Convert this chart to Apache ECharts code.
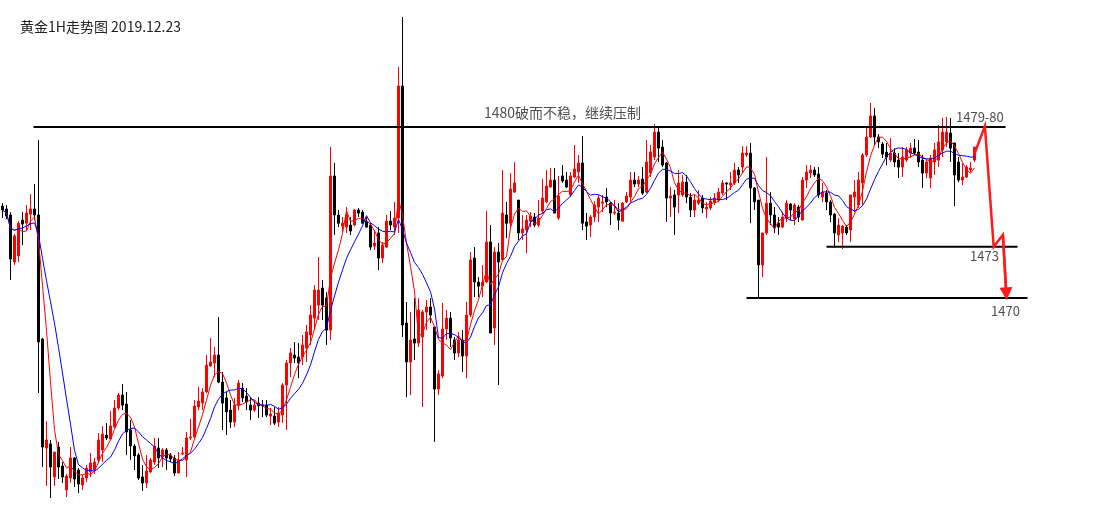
<!DOCTYPE html>
<html>
<head>
<meta charset="utf-8">
<script src="https://cdn.jsdelivr.net/npm/echarts@6/dist/echarts.min.js"></script>
<style>html,body{margin:0;padding:0;background:#fff;}#c{width:1114px;height:524px;}</style>
</head>
<body>
<div id="c"></div>
<script>
// ---- data (hourly gold candles) ----
const open = [
1475.38,1475.21,1474.86,1472.11,1472.46,1474.56,1474.38,1474.91,1475.21,1474.86,
1467.61,1461.23,1461.47,1459.54,1461.29,1460.18,1458.78,1459.48,1460.65,1459.95,
1459.07,1459.48,1459.83,1459.95,1460.53,1461.12,1461.99,1461.76,1462.46,1463.57,
1464.33,1463.80,1462.29,1461.35,1460.82,1459.54,1459.19,1459.83,1460.41,1461.23,
1460.71,1461.12,1460.82,1460.65,1459.77,1460.88,1460.53,1461.82,1461.88,1463.63,
1463.86,1464.51,1466.03,1466.20,1466.67,1465.09,1464.16,1463.45,1462.75,1463.74,
1464.74,1464.27,1463.74,1463.45,1463.86,1463.74,1463.74,1463.10,1463.10,1462.75,
1463.16,1464.92,1466.20,1466.67,1466.55,1466.55,1467.08,1467.84,1468.83,1469.59,
1470.59,1470.00,1468.13,1477.14,1474.86,1474.21,1474.15,1474.27,1474.27,1475.15,
1475.03,1474.50,1474.27,1473.04,1473.81,1472.34,1472.98,1474.50,1474.15,1474.68,
1482.40,1468.54,1466.26,1467.61,1467.37,1467.72,1469.19,1469.48,1468.31,1464.68,
1465.44,1468.19,1468.83,1467.55,1466.79,1467.55,1466.61,1469.01,1472.34,1470.94,
1470.70,1470.94,1473.28,1468.25,1472.69,1472.23,1474.86,1474.38,1476.20,1475.73,
1473.81,1473.98,1474.50,1474.74,1474.27,1475.09,1475.62,1476.49,1476.90,1474.68,
1477.14,1476.90,1476.03,1477.08,1477.37,1477.90,1474.45,1474.27,1474.74,1475.32,
1475.55,1475.91,1475.55,1474.97,1474.97,1474.50,1475.62,1475.91,1476.90,1476.67,
1476.96,1476.20,1477.31,1478.25,1479.71,1478.83,1477.90,1475.85,1476.03,1476.03,
1476.03,1476.78,1475.91,1475.15,1475.55,1475.85,1475.21,1475.27,1475.62,1475.73,
1476.14,1476.73,1476.61,1476.73,1477.49,1477.66,1478.37,1478.48,1476.44,1475.73,
1471.94,1473.81,1475.55,1474.86,1474.38,1474.15,1474.68,1475.50,1474.62,1475.32,
1474.56,1476.90,1477.31,1477.49,1477.26,1475.91,1476.14,1475.62,1474.91,1473.69,
1473.81,1474.15,1473.98,1475.91,1475.44,1476.73,1478.37,1479.42,1480.65,1479.42,
1479.01,1478.54,1478.07,1478.48,1478.07,1477.66,1478.07,1478.48,1478.77,1478.54,
1478.07,1477.31,1477.02,1477.96,1478.07,1478.66,1479.13,1479.65,1479.07,1477.96,
1476.90,1477.08,1477.49,1478.07];
const close = [
1475.15,1474.80,1472.29,1473.63,1474.38,1474.33,1474.97,1475.21,1474.86,1467.43,
1461.29,1461.70,1460.12,1461.00,1460.12,1459.54,1459.60,1460.65,1459.42,1459.13,
1459.48,1460.06,1460.36,1460.41,1461.70,1462.05,1461.82,1462.52,1463.57,1464.33,
1463.74,1462.17,1461.35,1460.77,1459.48,1459.19,1459.89,1460.53,1461.35,1460.65,
1461.12,1460.65,1460.59,1459.77,1460.53,1460.94,1461.82,1461.88,1463.69,1463.98,
1464.51,1466.08,1466.26,1466.67,1465.09,1463.86,1463.34,1462.75,1463.74,1465.03,
1464.16,1463.92,1463.45,1463.74,1463.69,1463.69,1463.16,1463.22,1462.69,1463.28,
1464.92,1466.20,1466.79,1466.49,1466.20,1467.26,1468.02,1469.01,1470.47,1470.47,
1469.59,1468.13,1477.14,1474.86,1474.38,1474.38,1474.86,1473.92,1475.15,1474.97,
1474.38,1474.15,1472.98,1473.22,1472.34,1473.10,1474.50,1474.27,1474.68,1482.40,
1468.43,1466.26,1467.55,1467.37,1469.30,1469.19,1469.48,1469.01,1464.68,1465.56,
1468.19,1468.83,1467.67,1466.79,1467.55,1466.61,1469.01,1472.23,1470.94,1470.70,
1470.94,1473.28,1467.96,1472.69,1472.11,1474.97,1474.38,1476.38,1476.73,1473.81,
1474.04,1474.56,1474.80,1474.27,1474.68,1475.85,1476.55,1476.90,1474.97,1475.97,
1476.84,1476.49,1477.14,1477.55,1477.90,1474.38,1474.21,1474.74,1475.44,1475.85,
1475.62,1475.62,1474.97,1475.03,1474.56,1475.55,1475.97,1476.90,1476.67,1476.90,
1476.14,1477.96,1478.54,1479.71,1478.77,1477.78,1475.85,1475.97,1475.32,1476.73,
1476.78,1475.91,1475.15,1475.73,1475.73,1475.27,1475.32,1475.67,1475.85,1476.20,
1476.73,1476.67,1476.73,1477.49,1477.20,1478.48,1478.48,1476.44,1475.62,1471.94,
1473.81,1475.55,1474.86,1474.10,1474.15,1474.74,1475.55,1475.15,1475.44,1474.74,
1476.90,1477.37,1477.49,1477.20,1476.03,1476.20,1475.62,1474.86,1473.81,1474.27,
1474.21,1473.81,1476.03,1476.20,1476.90,1478.37,1479.42,1480.65,1479.42,1479.13,
1478.42,1478.25,1478.48,1477.96,1477.66,1478.25,1478.66,1478.77,1478.48,1477.96,
1477.31,1477.96,1478.19,1478.66,1479.13,1479.71,1479.71,1478.77,1477.20,1476.90,
1477.08,1477.66,1477.61,1478.83];
const low = [
1474.68,1474.62,1471.06,1471.94,1472.11,1473.10,1473.98,1473.98,1474.56,1464.45,
1460.12,1459.01,1458.31,1459.01,1459.42,1459.19,1458.37,1459.19,1458.95,1458.60,
1458.78,1459.25,1459.54,1459.72,1460.36,1460.41,1461.70,1461.70,1462.40,1463.45,
1463.45,1460.82,1460.53,1459.95,1459.36,1458.72,1458.89,1459.77,1460.24,1460.06,
1460.12,1459.95,1460.41,1459.60,1459.77,1460.82,1459.54,1461.70,1461.76,1463.45,
1463.45,1464.45,1465.97,1465.38,1465.03,1462.29,1461.99,1462.40,1462.46,1463.45,
1463.92,1463.45,1462.87,1463.34,1462.99,1463.04,1463.04,1462.58,1462.58,1462.46,
1462.69,1462.29,1465.38,1466.20,1465.32,1466.08,1466.26,1467.26,1468.13,1468.72,
1468.72,1467.26,1467.55,1473.69,1474.15,1473.86,1473.81,1473.69,1474.21,1474.74,
1474.38,1474.10,1472.81,1472.81,1471.64,1472.05,1472.93,1473.98,1473.69,1473.81,
1467.72,1464.21,1464.33,1466.38,1467.14,1463.63,1468.13,1468.54,1461.59,1464.33,
1465.32,1467.55,1467.14,1466.38,1466.55,1465.68,1465.32,1468.89,1470.06,1470.06,
1470.06,1470.88,1467.96,1467.26,1464.92,1472.23,1473.51,1474.15,1476.14,1473.39,
1473.39,1472.63,1474.15,1474.15,1474.15,1474.97,1475.55,1476.49,1474.97,1474.56,
1476.73,1476.44,1475.91,1477.02,1476.73,1473.98,1473.39,1473.57,1474.45,1474.45,
1475.03,1475.32,1474.27,1474.86,1473.98,1474.45,1475.55,1475.62,1476.49,1476.49,
1476.03,1476.14,1477.08,1478.07,1477.96,1477.66,1474.45,1474.74,1473.69,1474.97,
1475.91,1475.55,1474.74,1474.74,1475.44,1474.97,1474.68,1475.15,1475.44,1475.62,
1476.03,1475.73,1476.32,1476.61,1476.73,1477.31,1478.25,1474.38,1475.15,1470.00,
1471.23,1473.69,1474.27,1473.81,1473.69,1474.10,1474.45,1474.56,1474.27,1474.45,
1474.56,1476.44,1477.02,1477.08,1475.85,1475.62,1475.15,1474.45,1472.93,1473.28,
1472.87,1473.69,1473.28,1475.03,1475.27,1475.44,1478.25,1479.36,1478.95,1478.77,
1478.19,1477.78,1477.96,1477.66,1477.02,1477.08,1477.96,1478.19,1478.37,1477.66,
1476.44,1477.02,1476.44,1477.20,1477.66,1478.25,1478.83,1477.96,1475.38,1476.78,
1476.61,1477.02,1477.37,1477.96];
const high = [
1475.55,1475.44,1475.03,1473.75,1474.50,1475.03,1475.44,1476.08,1476.67,1479.24,
1467.67,1462.81,1461.70,1461.00,1461.59,1460.41,1459.72,1461.29,1460.71,1460.06,
1459.66,1460.24,1460.94,1460.65,1462.11,1462.52,1462.69,1463.39,1464.04,1464.45,
1464.98,1464.51,1462.87,1461.47,1460.94,1460.24,1460.82,1460.65,1461.82,1461.82,
1461.23,1461.23,1460.94,1460.82,1461.00,1461.29,1462.17,1462.93,1464.04,1464.80,
1464.74,1466.67,1467.67,1467.14,1468.89,1465.68,1464.51,1464.04,1464.16,1465.21,
1465.03,1464.74,1464.21,1464.04,1464.21,1464.04,1464.04,1463.57,1463.63,1463.63,
1465.03,1466.38,1467.08,1467.43,1467.37,1467.84,1468.43,1469.59,1470.76,1472.40,
1471.06,1470.35,1478.83,1477.90,1475.15,1474.74,1475.32,1474.74,1475.21,1475.27,
1475.15,1474.74,1474.38,1473.98,1474.15,1473.28,1474.86,1475.09,1475.62,1483.51,
1486.44,1469.77,1469.19,1470.00,1470.00,1469.30,1469.89,1470.00,1468.31,1465.79,
1469.71,1469.30,1469.19,1467.72,1468.02,1468.13,1469.77,1472.69,1472.98,1471.23,
1471.94,1475.09,1474.27,1472.98,1473.22,1477.49,1475.62,1477.31,1477.96,1475.73,
1474.86,1474.86,1475.03,1474.97,1475.73,1476.96,1477.49,1477.61,1477.61,1477.14,
1477.78,1477.37,1477.37,1478.95,1478.37,1479.48,1474.97,1474.86,1475.67,1476.03,
1476.03,1476.44,1475.62,1475.73,1475.55,1475.62,1476.20,1477.37,1477.37,1477.14,
1477.66,1479.24,1478.95,1480.18,1480.00,1479.24,1477.96,1476.49,1476.32,1477.49,
1477.20,1477.20,1476.14,1476.03,1476.32,1476.03,1475.62,1475.91,1476.14,1476.44,
1476.90,1476.78,1477.37,1477.90,1477.66,1478.89,1478.89,1479.07,1476.49,1475.73,
1473.81,1478.25,1476.20,1475.32,1474.74,1475.03,1475.73,1475.55,1475.55,1475.44,
1477.08,1477.78,1477.78,1477.66,1477.66,1476.73,1476.32,1475.73,1474.97,1474.68,
1474.27,1474.27,1476.03,1476.90,1477.37,1478.48,1479.94,1481.41,1481.12,1479.59,
1479.13,1479.07,1479.36,1478.77,1478.48,1478.83,1478.83,1479.07,1479.30,1479.24,
1478.37,1478.07,1478.37,1479.07,1480.12,1480.53,1480.59,1480.53,1479.07,1478.25,
1477.90,1477.78,1477.96,1478.83];

// horizontal levels and their spans (in candle-slot units)
const levels = [1480, 1473, 1470];
const levelFrom = [7.75, 206, 186];
const levelTo = [250.75, 253.75, 256.25];
// projected path (slot, price); the last leg ends in an arrowhead
const pathSlots = [243, 245.6, 247.8, 250.1, 250.95];
const pathPrices = [1478.43, 1480.06, 1473.0, 1473.7, 1470.25];
// annotations
const noteTexts = ['1480破而不稳，继续压制', '1479-80', '1473', '1470'];
const noteSlots = [120.25, 238.25, 241.75, 247];
const notePrices = [1480.82, 1480.58, 1472.46, 1469.24];
const titleText = '黄金1H走势图 2019.12.23';

// ---- chart ----
const SLOTS = 262;
const categories = Array.from({length: SLOTS}, (_, i) => String(i));
function movingAverage(n) {
  return close.map((_, i) => {
    const s = Math.max(0, i - n + 1);
    let sum = 0;
    for (let j = s; j <= i; j++) sum += close[j];
    return +(sum / (i - s + 1)).toFixed(2);
  });
}
const candles = open.map((o, i) => [o, close[i], low[i], high[i]]);
const FONT = '"Noto Sans CJK SC", "Noto Sans", sans-serif';
const pathPts = pathSlots.map((s, i) => [s, pathPrices[i]]);

const series = [
  {
    type: 'candlestick', xAxisIndex: 0, yAxisIndex: 0, data: candles,
    barWidth: 2,
    itemStyle: { color: '#ff0000', color0: '#000000', borderColor: '#ff0000', borderColor0: '#000000', borderWidth: 1 }
  },
  { type: 'line', xAxisIndex: 0, data: movingAverage(5), symbol: 'none', lineStyle: { color: '#ff0000', width: 1 }, z: 3 },
  { type: 'line', xAxisIndex: 0, data: movingAverage(10), symbol: 'none', lineStyle: { color: '#0000ff', width: 1 }, z: 3 }
];
levels.forEach((v, k) => {
  series.push({
    type: 'line', xAxisIndex: 1, yAxisIndex: 0, symbol: 'none', z: 4,
    data: [[levelFrom[k], v], [levelTo[k], v]],
    lineStyle: { color: '#000000', width: 2 }
  });
});
series.push({
  type: 'lines', coordinateSystem: 'cartesian2d', xAxisIndex: 1, yAxisIndex: 0, polyline: true, z: 5,
  lineStyle: { color: '#ff1a1a', width: 2.5, opacity: 1 },
  data: [{ coords: pathPts }]
});
series.push({
  type: 'lines', coordinateSystem: 'cartesian2d', xAxisIndex: 1, yAxisIndex: 0, z: 5,
  symbol: ['none', 'triangle'], symbolSize: [0, 13],
  lineStyle: { color: '#ff1a1a', width: 2.5, opacity: 1 },
  itemStyle: { color: '#ff1a1a' },
  data: [{ coords: [pathPts[pathPts.length - 2], pathPts[pathPts.length - 1]] }]
});
series.push({
  type: 'scatter', xAxisIndex: 1, yAxisIndex: 0, symbolSize: 1, z: 6,
  itemStyle: { color: 'rgba(0,0,0,0)' },
  data: noteTexts.map((t, i) => ({ value: [noteSlots[i], notePrices[i]], name: t })),
  label: { show: true, position: 'right', distance: 0, formatter: p => p.name, fontSize: 13, color: '#222', fontFamily: FONT }
});
// the long annotation uses a slightly larger size
series[series.length - 1].data[0].label = { fontSize: 14 };

const chart = echarts.init(document.getElementById('c'), null, { renderer: 'canvas' });
chart.setOption({
  animation: false,
  backgroundColor: '#ffffff',
  title: { text: titleText, left: 15, top: 15, textStyle: { fontSize: 14, fontWeight: 'normal', color: '#222', fontFamily: FONT } },
  grid: { left: 0.5, right: 1114 - 0.5 - SLOTS * 4, top: 0, bottom: 0, containLabel: false },
  xAxis: [
    { type: 'category', data: categories, boundaryGap: true, show: false },
    { type: 'value', min: -0.5, max: SLOTS - 0.5, show: false }
  ],
  yAxis: [{ type: 'value', min: 1456.79, max: 1487.43, show: false, scale: true }],
  series: series
});
</script>
</body>
</html>
